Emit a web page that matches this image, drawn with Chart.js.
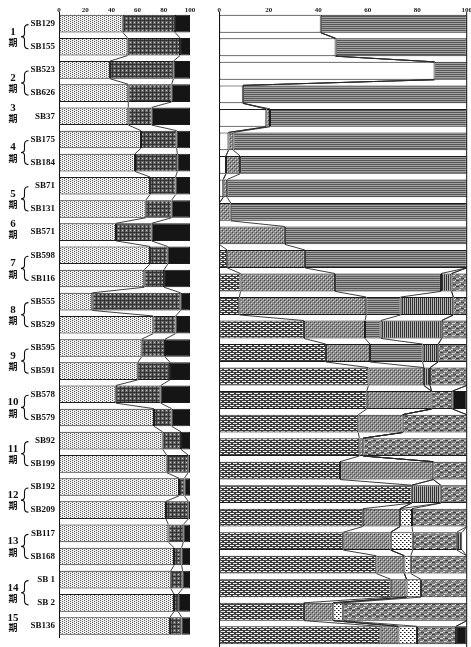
<!DOCTYPE html>
<html><head><meta charset="utf-8">
<script src="https://cdn.jsdelivr.net/npm/chart.js@4/dist/chart.umd.min.js"></script>
<style>
html,body{margin:0;padding:0;background:#fff;overflow:hidden;width:471px;height:647px;}
#c1{position:absolute;left:0;top:0;}
#c2{position:absolute;left:200px;top:0;}
</style></head><body>
<canvas id="c1" width="200" height="647"></canvas>
<canvas id="c2" width="271" height="647"></canvas>
<script>
// ---- categories ----
const sites = ['SB129','SB155','SB523','SB626','SB37','SB175','SB184','SB71','SB131','SB571','SB598','SB116','SB555','SB529','SB595','SB591','SB578','SB579','SB92','SB199','SB192','SB209','SB117','SB168','SB 1','SB 2','SB136'];
const sitePeriod = [1,1,2,2,3,4,4,5,5,6,7,7,8,8,9,9,10,10,11,11,12,12,13,13,14,14,15];
const periodSuffix = '期';
const xTicks = [0,20,40,60,80,100];

// ---- left chart (%) ----
const leftDot   = [48.6,52.4,38.9,52.9,52.9,62.6,58,69.5,66.2,43.5,69.5,65.1,25.4,72,63.1,60.1,43.3,72.5,79.1,82.2,91.6,81.7,83.5,87.8,85.3,87.8,84.7];
const leftCross = [39.9,40,48.4,33.1,17.8,27.2,32.3,19.5,19.8,27.2,13.5,15.1,67.5,17,17.8,24.6,34.3,13.5,14,16.5,4.1,17,11.4,5.8,9.1,3.2,8.9];
const leftBlack = [11.5,7.6,12.7,14,29.3,10.2,9.7,11,14,29.3,17,19.8,7.1,11,19.1,15.3,22.4,14,6.9,1.3,4.3,1.3,5.1,6.4,5.6,9,6.4];

// ---- right chart (%) ----
const rWhite = [41,47,87,9.5,19,3.7,2.7,1.6,0,0,0,0,0,0,0,0,0,0,0,0,0,0,0,0,0,0,0];
const rBrick = [0,0,0,0,0,0,0,0,0,0,3.2,8.6,8.1,34.2,43.1,60.3,59.6,56.2,56.6,48.8,77.8,58,50.1,63.5,69.3,34.2,65.2];
const rCross = [0,0,0,0,1.5,2,5.7,1.6,4.6,26.5,31.4,38.2,51.3,24.7,17.8,22.4,26.2,17.9,1.6,37.7,0,15,19.2,11.3,6.4,11.9,7.2];
const rGrey  = [59,53,13,90.5,79.5,94.3,91.6,96.8,95.4,73.5,65.4,42.8,13.9,6.3,21.3,0,0,0,0,0,0,0,0,0,0,0,0];
const rVert  = [0,0,0,0,0,0,0,0,0,0,0,4.3,21.3,24.7,6.3,2.5,0,0,0,0,11.7,0,0,0,0,0,0];
const rDot   = [0,0,0,0,0,0,0,0,0,0,0,0,0,0,0,0,0,0,0,0,0,4.9,8.9,2.6,5.8,4,7.5];
const rWavy  = [0,0,0,0,0,0,0,0,0,0,0,6.1,5.4,10.1,11.5,14.8,8.4,25.9,41.8,13.5,10.5,22.1,17.8,22.6,18.5,49.9,15.8];
const rVert2 = [0,0,0,0,0,0,0,0,0,0,0,0,0,0,0,0,0,0,0,0,0,0,2.2,0,0,0,0];
const rBlack = [0,0,0,0,0,0,0,0,0,0,0,0,0,0,0,0,5.8,0,0,0,0,0,0,0,0,0,4.3];

// ---- patterns ----
function pat(w,h,fn){const c=document.createElement('canvas');c.width=w;c.height=h;const g=c.getContext('2d');fn(g);return g.createPattern(c,'repeat');}
function px(g,col,pts){g.fillStyle=col;pts.forEach(p=>g.fillRect(p[0],p[1],p[2]||1,p[3]||1));}
const P = {
  ldot: pat(4,2,g=>{px(g,'#efefef',[[0,0,4,2]]);px(g,'#5a5a5a',[[0,0],[2,1]]);}),
  lcross: pat(4,4,g=>{px(g,'#6c6c6c',[[0,0,4,4]]);px(g,'#333',[[0,0,4,1],[0,0,1,4]]);px(g,'#c0c0c0',[[2,2]]);}),
  white: '#ffffff',
  brick: pat(6,4,g=>{px(g,'#ededed',[[0,0,6,4]]);px(g,'#3c3c3c',[[0,0,6,1],[0,2,6,1],[4,1,2,1],[1,3,2,1]]);}),
  rcross: pat(4,4,g=>{px(g,'#8c8c8c',[[0,0,4,4]]);px(g,'#474747',[[0,0],[2,2]]);px(g,'#d4d4d4',[[1,1],[3,3]]);}),
  hgrey: pat(1,2,g=>{px(g,'#575757',[[0,0]]);px(g,'#a2a2a2',[[0,1]]);}),
  vert: pat(2,1,g=>{px(g,'#333',[[0,0]]);px(g,'#b4b4b4',[[1,0]]);}),
  rdot: pat(4,4,g=>{px(g,'#ffffff',[[0,0,4,4]]);px(g,'#1e1e1e',[[0,0],[2,2]]);px(g,'#8a8a8a',[[1,0],[3,2]]);}),
  wavy: pat(8,6,g=>{px(g,'#7e7e7e',[[0,0,8,6]]);px(g,'#d4d4d4',[[0,2,3,1],[3,1,2,1],[4,5,3,1],[7,4,1,1]]);px(g,'#404040',[[5,2,3,1],[0,4,3,1]]);}),
  black: '#151515'
};

const border = '#1a1a1a';
function ds(label,data,bg){return {label,data,backgroundColor:bg,borderColor:border,borderWidth:1,borderSkipped:false,barPercentage:0.76,categoryPercentage:1};}

const connectors = {
  id:'connectors',
  afterDatasetsDraw(chart){
    const ctx=chart.ctx, xs=chart.scales.x, d=chart.data.datasets, n=chart.data.labels.length;
    const meta=chart.getDatasetMeta(0);
    ctx.save(); ctx.strokeStyle='#2a2a2a'; ctx.lineWidth=0.9;
    for(let i=0;i<n-1;i++){
      const a=meta.data[i], b=meta.data[i+1];
      const yA=a.y+a.height/2, yB=b.y-b.height/2;
      let ca=0, cb=0;
      for(let k=0;k<d.length-1;k++){
        ca+=d[k].data[i]; cb+=d[k].data[i+1];
        if(ca<=0&&cb<=0) continue;
        if(ca>=99.9&&cb>=99.9) continue;
        ctx.beginPath(); ctx.moveTo(xs.getPixelForValue(ca),yA); ctx.lineTo(xs.getPixelForValue(cb),yB); ctx.stroke();
      }
    }
    if(chart.options.plugins.connectors && chart.options.plugins.connectors.rightLine){
      const xr=xs.getPixelForValue(100);
      ctx.strokeStyle='#111'; ctx.lineWidth=1;
      ctx.beginPath(); ctx.moveTo(xr,chart.chartArea.top); ctx.lineTo(xr,chart.chartArea.bottom); ctx.stroke();
    }
    ctx.restore();
  }
};

const periodLabels = {
  id:'periodLabels',
  afterDraw(chart){
    const ctx=chart.ctx, ys=chart.scales.y;
    const groups=[];
    sitePeriod.forEach((p,i)=>{const g=groups.find(q=>q.p===p); if(g) g.rows.push(i); else groups.push({p,rows:[i]});});
    ctx.save(); ctx.fillStyle='#111'; ctx.strokeStyle='#111'; ctx.textAlign='center'; ctx.textBaseline='middle';
    groups.forEach(g=>{
      const y0=ys.getPixelForValue(g.rows[0]), y1=ys.getPixelForValue(g.rows[g.rows.length-1]);
      const c=(y0+y1)/2;
      const pair=g.rows.length>1;
      const ny=pair?c-3.5:c-8, ky=pair?c+7.5:c+2;
      ctx.font='bold 11px "Liberation Serif"';
      ctx.fillText(String(g.p),13,ny);
      ctx.font='bold 9px "Noto Sans CJK JP"';
      ctx.fillText(periodSuffix,13,ky);
      if(pair){
        const top=y0+1, bot=y1+2, mid=(top+bot)/2, bx=24.5;
        ctx.lineWidth=1.1;
        ctx.beginPath();
        ctx.moveTo(28.5,top);
        ctx.quadraticCurveTo(bx,top,bx,top+4);
        ctx.lineTo(bx,mid-3);
        ctx.quadraticCurveTo(bx,mid,21,mid);
        ctx.quadraticCurveTo(bx,mid,bx,mid+3);
        ctx.lineTo(bx,bot-4);
        ctx.quadraticCurveTo(bx,bot,28.5,bot);
        ctx.stroke();
      }
    });
    ctx.restore();
  }
};

function xScale(){
  return {type:'linear',position:'top',stacked:true,min:0,max:100,
    afterBuildTicks(s){s.ticks=xTicks.map(v=>({value:v}));},
    afterFit(s){s.height=12;s.paddingLeft=0;s.paddingRight=0;},
    grid:{display:false,drawTicks:false},border:{display:false},
    ticks:{padding:-2,color:'#1a1a1a',font:{family:'"Liberation Serif"',size:7,weight:'bold'},maxRotation:0,autoSkip:false}};
}

new Chart(document.getElementById('c1'),{
  type:'bar',
  data:{labels:sites,datasets:[ds('dot',leftDot,P.ldot),ds('cross',leftCross,P.lcross),ds('black',leftBlack,P.black)]},
  options:{indexAxis:'y',responsive:false,animation:false,devicePixelRatio:1,
    layout:{padding:{left:0,right:10,top:0,bottom:0}},
    plugins:{legend:{display:false},tooltip:{enabled:false},connectors:{rightLine:false}},
    scales:{x:xScale(),
      y:{type:'category',stacked:true,afterFit(s){s.width=59;},
        grid:{display:false,drawTicks:false},border:{display:true,color:'#111',width:1},
        ticks:{autoSkip:false,padding:4,color:'#111',font:{family:'"Liberation Serif"',size:9,weight:'bold'}}}}},
  plugins:[connectors,periodLabels]
});

new Chart(document.getElementById('c2'),{
  type:'bar',
  data:{labels:sites,datasets:[ds('white',rWhite,P.white),ds('brick',rBrick,P.brick),ds('cross',rCross,P.rcross),ds('grey',rGrey,P.hgrey),ds('vert',rVert,P.vert),ds('dot',rDot,P.rdot),ds('wavy',rWavy,P.wavy),ds('vert2',rVert2,P.vert),ds('black',rBlack,P.black)]},
  options:{indexAxis:'y',responsive:false,animation:false,devicePixelRatio:1,
    layout:{padding:{left:0,right:4.3,top:0,bottom:0}},
    plugins:{legend:{display:false},tooltip:{enabled:false},connectors:{rightLine:true}},
    scales:{x:xScale(),
      y:{type:'category',stacked:true,afterFit(s){s.width=19.3;},
        grid:{display:false,drawTicks:false},border:{display:true,color:'#111',width:1},
        ticks:{display:false}}}},
  plugins:[connectors]
});
</script>
</body></html>
